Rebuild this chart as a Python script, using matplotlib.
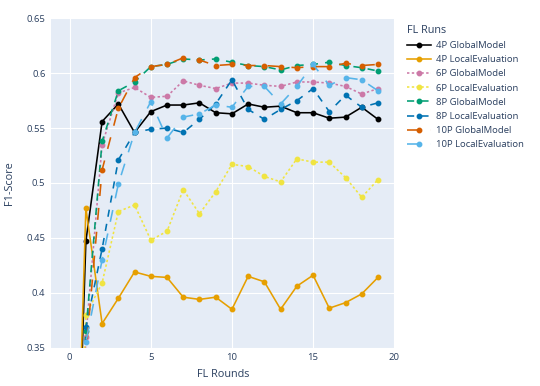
import matplotlib
matplotlib.use('Agg')
import matplotlib.pyplot as plt

# FL rounds and F1 scores per run
rounds = list(range(20))

p4_global = [0.0, 0.447, 0.556, 0.572, 0.546, 0.565, 0.571, 0.571, 0.573, 0.564,
             0.563, 0.572, 0.569, 0.570, 0.564, 0.564, 0.559, 0.560, 0.569, 0.558]
p4_local = [0.0, 0.477, 0.372, 0.395, 0.419, 0.415, 0.414, 0.396, 0.394, 0.396,
            0.385, 0.415, 0.410, 0.385, 0.406, 0.416, 0.386, 0.391, 0.399, 0.414]
p6_global = [0.0, 0.360, 0.535, 0.582, 0.587, 0.578, 0.579, 0.593, 0.589, 0.586,
             0.591, 0.591, 0.589, 0.588, 0.592, 0.592, 0.591, 0.588, 0.581, 0.586]
p6_local = [0.0, 0.380, 0.409, 0.474, 0.480, 0.448, 0.456, 0.494, 0.472, 0.492,
            0.517, 0.515, 0.506, 0.501, 0.522, 0.519, 0.519, 0.505, 0.487, 0.503]
p8_global = [0.0, 0.365, 0.538, 0.584, 0.592, 0.606, 0.608, 0.613, 0.612, 0.613,
             0.610, 0.607, 0.606, 0.603, 0.607, 0.608, 0.610, 0.607, 0.605, 0.602]
p8_local = [0.0, 0.369, 0.440, 0.521, 0.546, 0.549, 0.550, 0.546, 0.558, 0.572,
            0.594, 0.567, 0.558, 0.567, 0.575, 0.586, 0.565, 0.580, 0.569, 0.573]
p10_global = [0.0, 0.345, 0.512, 0.568, 0.596, 0.606, 0.608, 0.614, 0.612, 0.607,
              0.608, 0.607, 0.607, 0.606, 0.605, 0.606, 0.606, 0.609, 0.607, 0.608]
p10_local = [0.0, 0.355, 0.430, 0.499, 0.546, 0.574, 0.541, 0.560, 0.563, 0.571,
             0.569, 0.588, 0.588, 0.572, 0.588, 0.608, 0.589, 0.596, 0.594, 0.584]

names = ['4P GlobalModel', '4P LocalEvaluation', '6P GlobalModel', '6P LocalEvaluation',
         '8P GlobalModel', '8P LocalEvaluation', '10P GlobalModel', '10P LocalEvaluation']
series = [p4_global, p4_local, p6_global, p6_local,
          p8_global, p8_local, p10_global, p10_local]
colors = ['#000000', '#E69F00', '#CC79A7', '#F0E442',
          '#009E73', '#0072B2', '#D55E00', '#56B4E9']

dot = (0, (1.5, 1.5))
dash = (0, (4.5, 4.5))
longdash = (0, (7.5, 7.5))
styles = ['-', '-', dot, dot, dash, dash, longdash, longdash]

text_color = '#2a3f5f'
plt.rcParams['font.family'] = ['Open Sans', 'DejaVu Sans']

fig = plt.figure(figsize=(5.4, 3.86), dpi=100)
ax = fig.add_axes([51 / 540, 1 - 347.7 / 386, (395 - 51) / 540, (347.7 - 18.3) / 386])
ax.set_facecolor('#E5ECF6')

for name, vals, col, ls in zip(names, series, colors, styles):
    ax.plot(rounds, vals, color=col, linestyle=ls, linewidth=1.15,
            marker='o', markersize=3.2, label=name)

ax.set_xlim(-1.15, 20.05)
ax.set_ylim(0.35, 0.65)
ax.set_xticks([0, 5, 10, 15, 20])
ax.set_yticks([0.35, 0.4, 0.45, 0.5, 0.55, 0.6, 0.65])
ax.set_yticklabels(['0.35', '0.4', '0.45', '0.5', '0.55', '0.6', '0.65'])
ax.grid(True, color='white', linewidth=0.8)
ax.set_axisbelow(True)
for sp in ax.spines.values():
    sp.set_visible(False)
ax.tick_params(length=0, labelsize=6.8, colors=text_color, pad=4)

ax.set_xlabel('FL Rounds', fontsize=7.8, color=text_color, labelpad=5)
ax.set_ylabel('F1-Score', fontsize=7.8, color=text_color, labelpad=8)

leg = ax.legend(loc='upper left', bbox_to_anchor=(403 / 540, 1 - 21 / 386),
                bbox_transform=fig.transFigure, frameon=False,
                title='FL Runs', fontsize=6.8, title_fontsize=7.8,
                handlelength=2.6, handletextpad=0.5, labelspacing=0.55,
                borderaxespad=0, numpoints=1, labelcolor=text_color)
leg.get_title().set_color(text_color)
leg._legend_box.align = 'left'

fig.savefig('out.png', dpi=100)
